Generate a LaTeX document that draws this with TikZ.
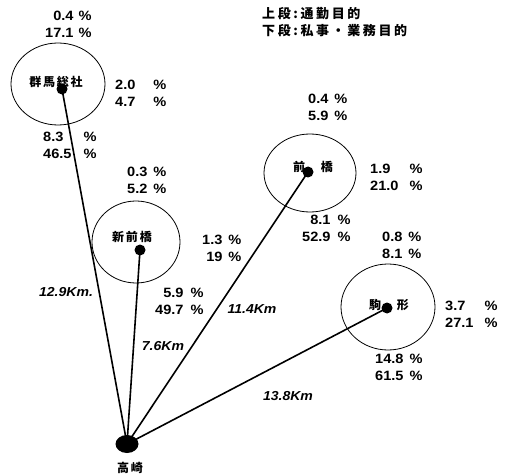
\documentclass[tikz,border=0pt]{standalone}
\usepackage{fontspec}
\usetikzlibrary{shapes.geometric}
\setmainfont{Liberation Sans}[FakeStretch=1.08]
\newfontfamily\cjk{Noto Sans CJK JP}[LetterSpace=15]
\newfontfamily\cjkleg{Noto Sans CJK JP}[LetterSpace=20]
\tikzset{
  stdot/.style={fill=black, circle, inner sep=0pt, minimum size=11pt},
  conn/.style={line width=1.6pt},
  ring/.style={line width=0.8pt},
  pb/.style={inner sep=0pt, font=\fontsize{13.5}{17}\selectfont\bfseries},
  nm/.style={inner sep=0pt, font=\fontsize{12}{14}\selectfont\cjk\bfseries},
  dist/.style={inner sep=0pt, font=\fontsize{13}{15}\selectfont\bfseries\itshape},
  legend/.style={inner sep=0pt, align=left, font=\fontsize{13}{17}\selectfont\cjkleg\bfseries}
}
\newcommand\pbr[3]{\begin{tabular}{@{}r@{\hspace{#1}}l@{}}#2&\%\\#3&\%\end{tabular}}
\newcommand\pbl[3]{\begin{tabular}{@{}l@{\hspace{#1}}l@{}}#2&\%\\#3&\%\end{tabular}}
\begin{document}
\begin{tikzpicture}[x=1pt,y=-1pt]
\useasboundingbox (0,0) rectangle (509,476);
% circles
\draw[ring] (58,84) ellipse [x radius=47, y radius=41];
\draw[ring] (136,242) ellipse [x radius=44, y radius=41];
\draw[ring] (310,173) ellipse [x radius=46, y radius=39];
\draw[ring] (388,307) ellipse [x radius=47, y radius=43];
% dots
\node[stdot] (gs) at (62,89) {};
\node[stdot] (sm) at (140,250) {};
\node[stdot] (mb) at (308,172) {};
\node[stdot] (km) at (387,308) {};
\node[fill=black, ellipse, inner sep=0pt, minimum width=23pt, minimum height=18pt] (tk) at (127,444) {};
% connectors
\draw[conn] (tk.center) -- (gs.center);
\draw[conn] (tk.center) -- (sm.center);
\draw[conn] (tk.center) -- (mb.center);
\draw[conn] (tk.center) -- (km.center);
% names
\node[nm] (ngs) at (56,82) {群馬総社};
\node[nm] (nsm) at (132,237) {新前橋};
\node[nm] (nmb) at (313,167) {前　橋};
\node[nm] (nkm) at (389,305) {駒　形};
\node[nm] (ntk) at (130,468) {高崎};
% legend
\node[legend, anchor=west] (leg) at (262,22.5) {上段:通勤目的\\下段:私事・業務目的};
% percentage blocks
\node[pb, anchor=west] (pA) at (45,25.5) {\pbr{5pt}{0.4}{17.1}};
\node[pb, anchor=west] (pB) at (115,94.5) {\pbl{18pt}{2.0}{4.7}};
\node[pb, anchor=west] (pC) at (43,147) {\pbl{12pt}{8.3}{46.5}};
\node[pb, anchor=west] (pD) at (127,181.5) {\pbr{6pt}{0.3}{5.2}};
\node[pb, anchor=west] (pE) at (202,250) {\pbr{6pt}{1.3}{19}};
\node[pb, anchor=west] (pF) at (155,303) {\pbr{7pt}{5.9}{49.7}};
\node[pb, anchor=west] (pJ) at (308,109) {\pbr{6pt}{0.4}{5.9}};
\node[pb, anchor=west] (pK) at (370,178.5) {\pbl{11pt}{1.9}{21.0}};
\node[pb, anchor=west] (pL) at (302,229.5) {\pbr{7pt}{8.1}{52.9}};
\node[pb, anchor=west] (pG) at (382,247) {\pbr{6pt}{0.8}{8.1}};
\node[pb, anchor=west] (pH) at (445,316) {\pbl{11pt}{3.7}{27.1}};
\node[pb, anchor=west] (pI) at (375,369) {\pbr{6pt}{14.8}{61.5}};
% distances
\node[dist] (d1) at (66,292) {12.9Km.};
\node[dist] (d2) at (163,346) {7.6Km};
\node[dist] (d3) at (252,309) {11.4Km};
\node[dist] (d4) at (288,396) {13.8Km};
\end{tikzpicture}
\end{document}
